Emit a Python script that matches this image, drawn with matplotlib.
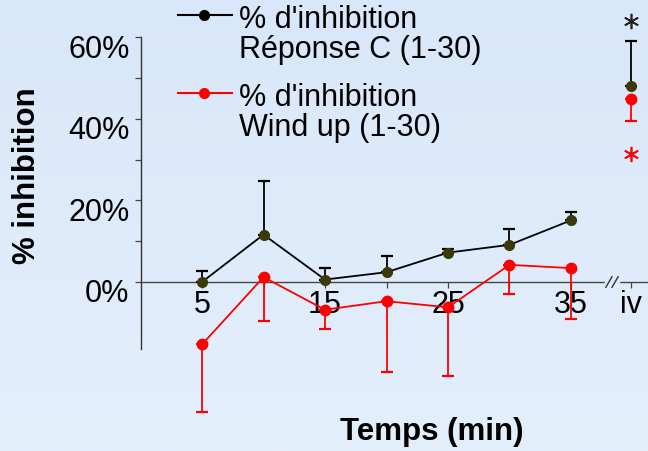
import matplotlib
matplotlib.use("Agg")
import matplotlib.pyplot as plt
from matplotlib.transforms import ScaledTranslation
from matplotlib.colors import LinearSegmentedColormap
import numpy as np

# ---- data ----
times = [5, 10, 15, 20, 25, 30, 35]
rep_c = [0.0, 11.6, 0.6, 2.4, 7.2, 9.1, 15.1]
rep_c_err = [2.8, 13.1, 2.9, 4.0, 1.0, 3.8, 2.0]
wind_up = [-15.3, 1.2, -6.8, -4.7, -6.2, 4.2, 3.4]
wind_up_err = [16.6, 10.8, 4.8, 17.3, 16.7, 7.1, 12.5]
iv_pos = 39.85
iv_rep_c, iv_rep_c_err = 48.1, 10.9
iv_wind_up, iv_wind_up_err = 44.8, 5.4
xtick_pos = [5, 10, 15, 20, 25, 30, 35, iv_pos]
xtick_labels = ['5', '', '15', '', '25', '', '35', 'iv']
ytick_pos = [0, 20, 40, 60]
ytick_labels = ['0%', '20%', '40%', '60%']
legend_labels = ["% d'inhibition\nRéponse C (1-30)", "% d'inhibition\nWind up (1-30)"]

W, H = 648, 452
plt.rcParams['font.family'] = ['Liberation Sans', 'DejaVu Sans']
bg = '#dce9fa'
fig = plt.figure(figsize=(W / 100, H / 100), dpi=100, facecolor=bg)
ax = fig.add_axes([0, 0, 1, 1])
ax.set_facecolor('none')

# background gradient
grad = np.linspace(0, 1, 256).reshape(-1, 1)
bax = fig.add_axes([0, 0, 1, 1], zorder=-10)
cm = LinearSegmentedColormap.from_list('bg', ['#d8e7f9', '#e4effc'])
bax.imshow(grad, aspect='auto', cmap=cm, extent=[0, 1, 0, 1])
bax.axis('off')

# pixel mapping
def xd(px):
    return 5 + (px - 202) / 12.3
def yd(py):
    return (283 - py) / 4.083

ax.set_xlim(xd(0), xd(W))
ax.set_ylim(yd(H), yd(0))

black_dot = '#3a3a08'
red = '#ff0000'
TS = 22

# Réponse C (black)
ax.plot(times, rep_c, color='black', lw=1.3, zorder=3)
ax.errorbar(times, rep_c, yerr=[np.zeros(len(rep_c)), rep_c_err], fmt='none',
            ecolor='black', elinewidth=1.3, capsize=4, capthick=1.6, zorder=3)
ax.plot(times, rep_c, 'o', color=black_dot, ms=7, zorder=4)
ax.errorbar([iv_pos], [iv_rep_c], yerr=[[0], [iv_rep_c_err]], fmt='none',
            ecolor='black', elinewidth=1.3, capsize=4, capthick=1.6, zorder=3)
ax.plot([iv_pos], [iv_rep_c], 'o', color=black_dot, ms=7, zorder=4)

# Wind up (red)
ax.plot(times, wind_up, color=red, lw=1.3, zorder=5)
ax.errorbar(times, wind_up, yerr=[wind_up_err, np.zeros(len(wind_up))], fmt='none',
            ecolor=red, elinewidth=1.3, capsize=4, capthick=1.6, zorder=5)
ax.plot(times, wind_up, 'o', color=red, ms=7.5, zorder=6)
ax.errorbar([iv_pos], [iv_wind_up], yerr=[[iv_wind_up_err], [0]], fmt='none',
            ecolor=red, elinewidth=1.3, capsize=4, capthick=1.6, zorder=5)
ax.plot([iv_pos], [iv_wind_up], 'o', color=red, ms=7.5, zorder=6)

# asterisks
ax.plot([iv_pos], [iv_rep_c + iv_rep_c_err], linestyle='none', marker=(6, 2, 0),
        ms=11, mew=1.2, color='#222222', transform=ax.transData +
        ScaledTranslation(0, 0.20, fig.dpi_scale_trans), clip_on=False)
ax.plot([iv_pos], [iv_wind_up - iv_wind_up_err], linestyle='none', marker=(6, 2, 0),
        ms=11, mew=1.2, color=red, transform=ax.transData +
        ScaledTranslation(0, -0.33, fig.dpi_scale_trans), clip_on=False)

# spines
for s in ['top', 'right']:
    ax.spines[s].set_visible(False)
ax.spines['left'].set_position(('data', 0))
ax.spines['left'].set_bounds(yd(350), 60)
ax.spines['bottom'].set_position(('data', 0))
ax.spines['bottom'].set_bounds(0, xd(W))
ax.spines['left'].set_color('#333333')
ax.spines['bottom'].set_color('#444444')
ax.spines['left'].set_linewidth(1.0)
ax.spines['bottom'].set_linewidth(1.0)

ax.set_yticks(ytick_pos)
ax.set_yticklabels(ytick_labels, fontsize=TS)
ax.set_yticks([10, 30, 50], minor=True)
ax.tick_params(axis='y', which='both', direction='out', length=4, width=0.9,
               color='#444444', pad=4)
for lab in ax.get_yticklabels():
    lab.set_transform(lab.get_transform() + ScaledTranslation(0, -0.08, fig.dpi_scale_trans))

ax.set_xticks(xtick_pos)
ax.set_xticklabels(xtick_labels, fontsize=TS)
ax.tick_params(axis='x', which='both', direction='out', length=4, width=0.9,
               color='#444444', pad=1)

# axis break marks
bx = xd(612)
for dx in (-0.25, 0.25):
    ax.plot([bx + dx - 0.25, bx + dx + 0.25], [-1.3, 1.3], color='#333333', lw=1.0,
            zorder=7, clip_on=False)
ax.plot([bx - 0.45, bx + 0.45], [0, 0], color=bg, lw=2.5, zorder=6.5)

# axis labels
fig.text(27 / W, 1 - 176 / H, '% inhibition', rotation=90, fontsize=22.5,
         fontweight='bold', ha='center', va='center')
fig.text(432 / W, 1 - 432 / H, 'Temps (min)', fontsize=22.5, fontweight='bold',
         ha='center', va='center')

# legend (manual)
for (ly, col, mcol, lab) in [(16, 'black', 'black', legend_labels[0]),
                             (94, red, red, legend_labels[1])]:
    fig.lines.append(plt.Line2D([178 / W, 232 / W], [1 - ly / H, 1 - ly / H],
                                color=col, lw=1.5, transform=fig.transFigure))
    fig.lines.append(plt.Line2D([204 / W], [1 - ly / H], marker='o', ms=7,
                                color=mcol, transform=fig.transFigure))
    fig.text(239 / W, 1 - (ly - 11) / H, lab, fontsize=TS, ha='left', va='top',
             linespacing=1.0)

fig.savefig('out.png', dpi=100, facecolor=bg)
